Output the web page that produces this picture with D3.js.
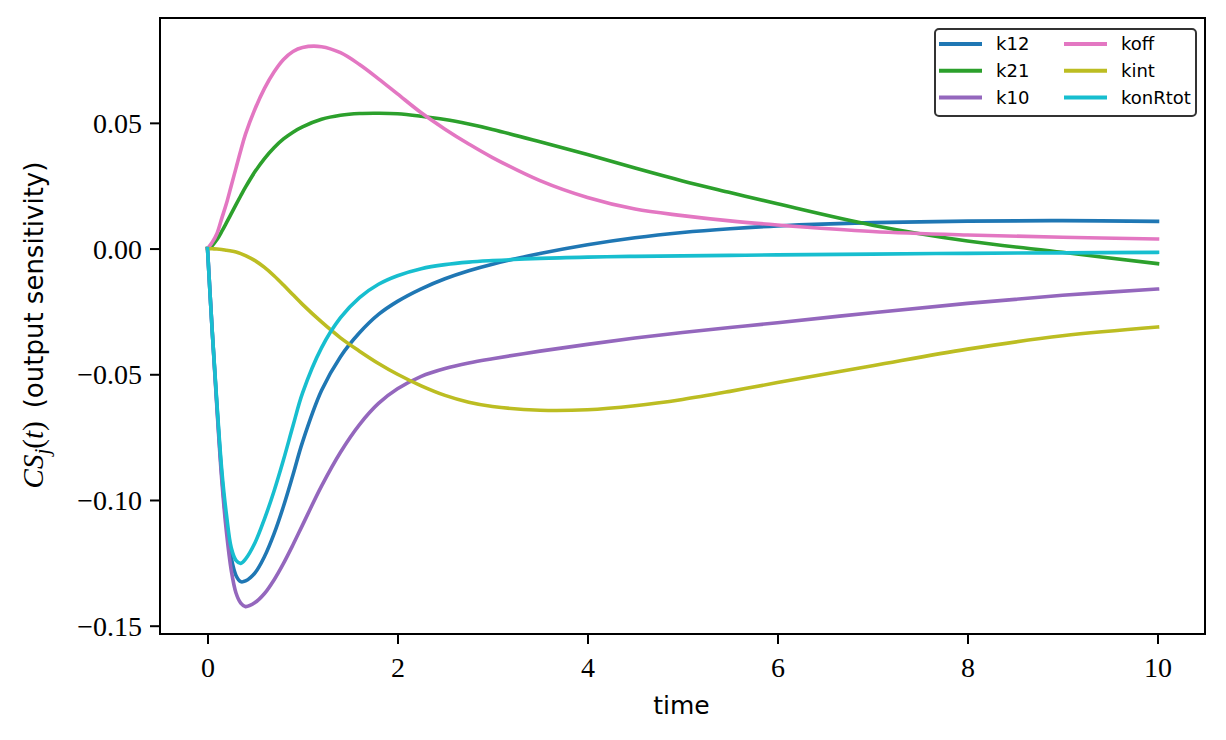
<!DOCTYPE html>
<html>
<head>
<meta charset="utf-8">
<script src="https://cdn.jsdelivr.net/npm/d3@7"></script>
<style>
  body { margin: 0; background: #fff; }
</style>
</head>
<body>
<div id="chart"></div>
<script>
// sample times, shared by all series
const time = [0, 0.05, 0.1, 0.15, 0.2, 0.25, 0.3, 0.35, 0.4, 0.5, 0.6, 0.7, 0.8, 0.9, 1.0,
  1.2, 1.4, 1.6, 1.8, 2.0, 2.25, 2.5, 2.75, 3.0, 3.5, 4, 4.5, 5, 5.5, 6, 7, 8, 9, 10];

const k12 = [0, -0.033, -0.063, -0.090, -0.110, -0.123, -0.130, -0.1325, -0.1322, -0.129, -0.1225, -0.1135, -0.1025, -0.090, -0.077,
  -0.0565, -0.0430, -0.0335, -0.0262, -0.0210, -0.0160, -0.0120, -0.0088, -0.0062, -0.0020, 0.0015, 0.0043, 0.0064, 0.0079, 0.0090, 0.0103, 0.0109, 0.0111, 0.0108];

const k21 = [0, 0.0012, 0.0036, 0.0068, 0.0103, 0.0139, 0.0175, 0.021, 0.0244, 0.0306, 0.0358, 0.0401, 0.0436, 0.0463, 0.0484,
  0.0514, 0.0530, 0.0537, 0.0538, 0.0536, 0.0526, 0.0513, 0.0495, 0.0474, 0.0425, 0.0374, 0.0320, 0.0269, 0.0223, 0.0178, 0.0093, 0.0030, -0.0015, -0.0060];

const k10 = [0, -0.033, -0.064, -0.092, -0.113, -0.128, -0.137, -0.141, -0.1424, -0.1408, -0.1372, -0.1318, -0.1252, -0.1178, -0.1100,
  -0.0945, -0.0810, -0.0700, -0.0616, -0.0558, -0.0508, -0.0477, -0.0455, -0.0438, -0.0408, -0.0381, -0.0356, -0.0334, -0.0314, -0.0295, -0.0255, -0.0218, -0.0186, -0.0161];

const koff = [0, 0.0025, 0.006, 0.012, 0.018, 0.025, 0.032, 0.039, 0.0455, 0.0555, 0.0637, 0.0702, 0.0752, 0.0784, 0.0800,
  0.0803, 0.0779, 0.0732, 0.0675, 0.0615, 0.054, 0.0475, 0.0416, 0.0362, 0.027, 0.0203, 0.0157, 0.0131, 0.0110, 0.0094, 0.0068, 0.0054, 0.0045, 0.0038];

const kint = [0, -0.0001, -0.0002, -0.0004, -0.0007, -0.001, -0.0014, -0.002, -0.0028, -0.0048, -0.0075, -0.0108, -0.0145, -0.0184, -0.0222,
  -0.0292, -0.0355, -0.0408, -0.0457, -0.0500, -0.0546, -0.0584, -0.0611, -0.0628, -0.0643, -0.0641, -0.0625, -0.0600, -0.0568, -0.0533, -0.0466, -0.0400, -0.0347, -0.0312];

const konRtot = [0, -0.033, -0.062, -0.088, -0.106, -0.119, -0.124, -0.1252, -0.1235, -0.117, -0.1075, -0.0965, -0.0840, -0.0705, -0.0575,
  -0.0395, -0.0275, -0.0195, -0.0142, -0.0108, -0.0080, -0.0064, -0.0054, -0.0048, -0.0039, -0.0034, -0.0031, -0.0029, -0.0027, -0.0025, -0.0022, -0.0019, -0.0017, -0.0015];

const seriesNames = ['k12', 'k21', 'k10', 'koff', 'kint', 'konRtot'];
const seriesValues = [k12, k21, k10, koff, kint, konRtot];
const colors = ['#1f77b4', '#2ca02c', '#9467bd', '#e377c2', '#bcbd22', '#17becf'];

const xTicks = [0, 2, 4, 6, 8, 10];
const yTicks = [-0.15, -0.10, -0.05, 0.00, 0.05];

const W = 1226, H = 740;
const mLeft = 160, mRight = 1205, mTop = 18, mBottom = 634;

const svg = d3.select('#chart').append('svg').attr('width', W).attr('height', H);

const x = d3.scaleLinear().domain([-0.5, 10.5]).range([mLeft, mRight]);
const y = d3.scaleLinear().domain([-0.1533, 0.0917]).range([mBottom, mTop]);

const fmt = d => d3.format('.2f')(d).replace('-', '\u2212');

// axes
const xAxis = svg.append('g').attr('transform', `translate(0,${mBottom})`)
  .call(d3.axisBottom(x).tickValues(xTicks).tickSize(10).tickPadding(8).tickFormat(d3.format('d')));
const yAxis = svg.append('g').attr('transform', `translate(${mLeft},0)`)
  .call(d3.axisLeft(y).tickValues(yTicks).tickSize(10).tickPadding(8).tickFormat(fmt));

[xAxis, yAxis].forEach(g => {
  g.select('.domain').remove();
  g.selectAll('line').attr('stroke', '#000').attr('stroke-width', 2);
  g.selectAll('text').attr('fill', '#000').style('font-family', '"Liberation Serif", "DejaVu Serif", serif').style('font-size', '28px');
});
xAxis.selectAll('text').attr('dy', '0.9em');
yAxis.selectAll('text').attr('dy', '0.34em');

// lines
svg.append('clipPath').attr('id', 'clip').append('rect')
  .attr('x', mLeft).attr('y', mTop).attr('width', mRight - mLeft).attr('height', mBottom - mTop);

const line = d3.line().x(d => x(d[0])).y(d => y(d[1])).curve(d3.curveCatmullRom.alpha(0.5));

svg.append('g').attr('clip-path', 'url(#clip)').selectAll('path')
  .data(seriesValues)
  .enter().append('path')
  .attr('d', vals => line(vals.map((v, i) => [time[i], v])))
  .attr('fill', 'none')
  .attr('stroke', (d, i) => colors[i])
  .attr('stroke-width', 3.6)
  .attr('stroke-linejoin', 'round')
  .attr('stroke-linecap', 'square');

// frame
svg.append('rect').attr('x', mLeft).attr('y', mTop).attr('width', mRight - mLeft).attr('height', mBottom - mTop)
  .attr('fill', 'none').attr('stroke', '#000').attr('stroke-width', 2);

// axis labels
svg.append('text').attr('x', (mLeft + mRight) / 2 - 1).attr('y', 714).attr('text-anchor', 'middle')
  .style('font-family', '"DejaVu Sans", sans-serif').style('font-size', '25px').text('time');

const serif = '"Liberation Serif", "DejaVu Serif", serif';
const ylab = svg.append('text').attr('transform', 'translate(43,325) rotate(-90)').attr('text-anchor', 'middle')
  .style('font-size', '26px');
ylab.append('tspan').style('font-family', serif).style('font-style', 'italic').style('font-size', '29px').text('CS');
ylab.append('tspan').style('font-family', serif).style('font-style', 'italic').style('font-size', '21px').attr('dy', 6).text('j');
ylab.append('tspan').style('font-family', serif).style('font-size', '29px').attr('dy', -6).text('(');
ylab.append('tspan').style('font-family', serif).style('font-style', 'italic').style('font-size', '29px').text('t');
ylab.append('tspan').style('font-family', serif).style('font-size', '29px').text(')');
ylab.append('tspan').style('font-family', '"DejaVu Sans", sans-serif').text('\u2002(output sensitivity)');

// legend
const lg = svg.append('g').attr('transform', 'translate(935,29)');
lg.append('rect').attr('width', 261).attr('height', 87).attr('rx', 4)
  .attr('fill', '#fff').attr('fill-opacity', 0.8).attr('stroke', '#333').attr('stroke-width', 2);

const items = lg.selectAll('g.item').data(seriesNames).enter().append('g')
  .attr('transform', (d, i) => `translate(${4 + Math.floor(i / 3) * 125},${15 + (i % 3) * 26.7})`);
items.append('line').attr('x1', 0).attr('x2', 43).attr('y1', 0).attr('y2', 0)
  .attr('stroke', (d, i) => colors[i]).attr('stroke-width', 4);
items.append('text').attr('x', 57).attr('y', 0).attr('dy', '0.35em')
  .style('font-family', '"DejaVu Sans", sans-serif').style('font-size', '18px').text(d => d);
</script>
</body>
</html>
